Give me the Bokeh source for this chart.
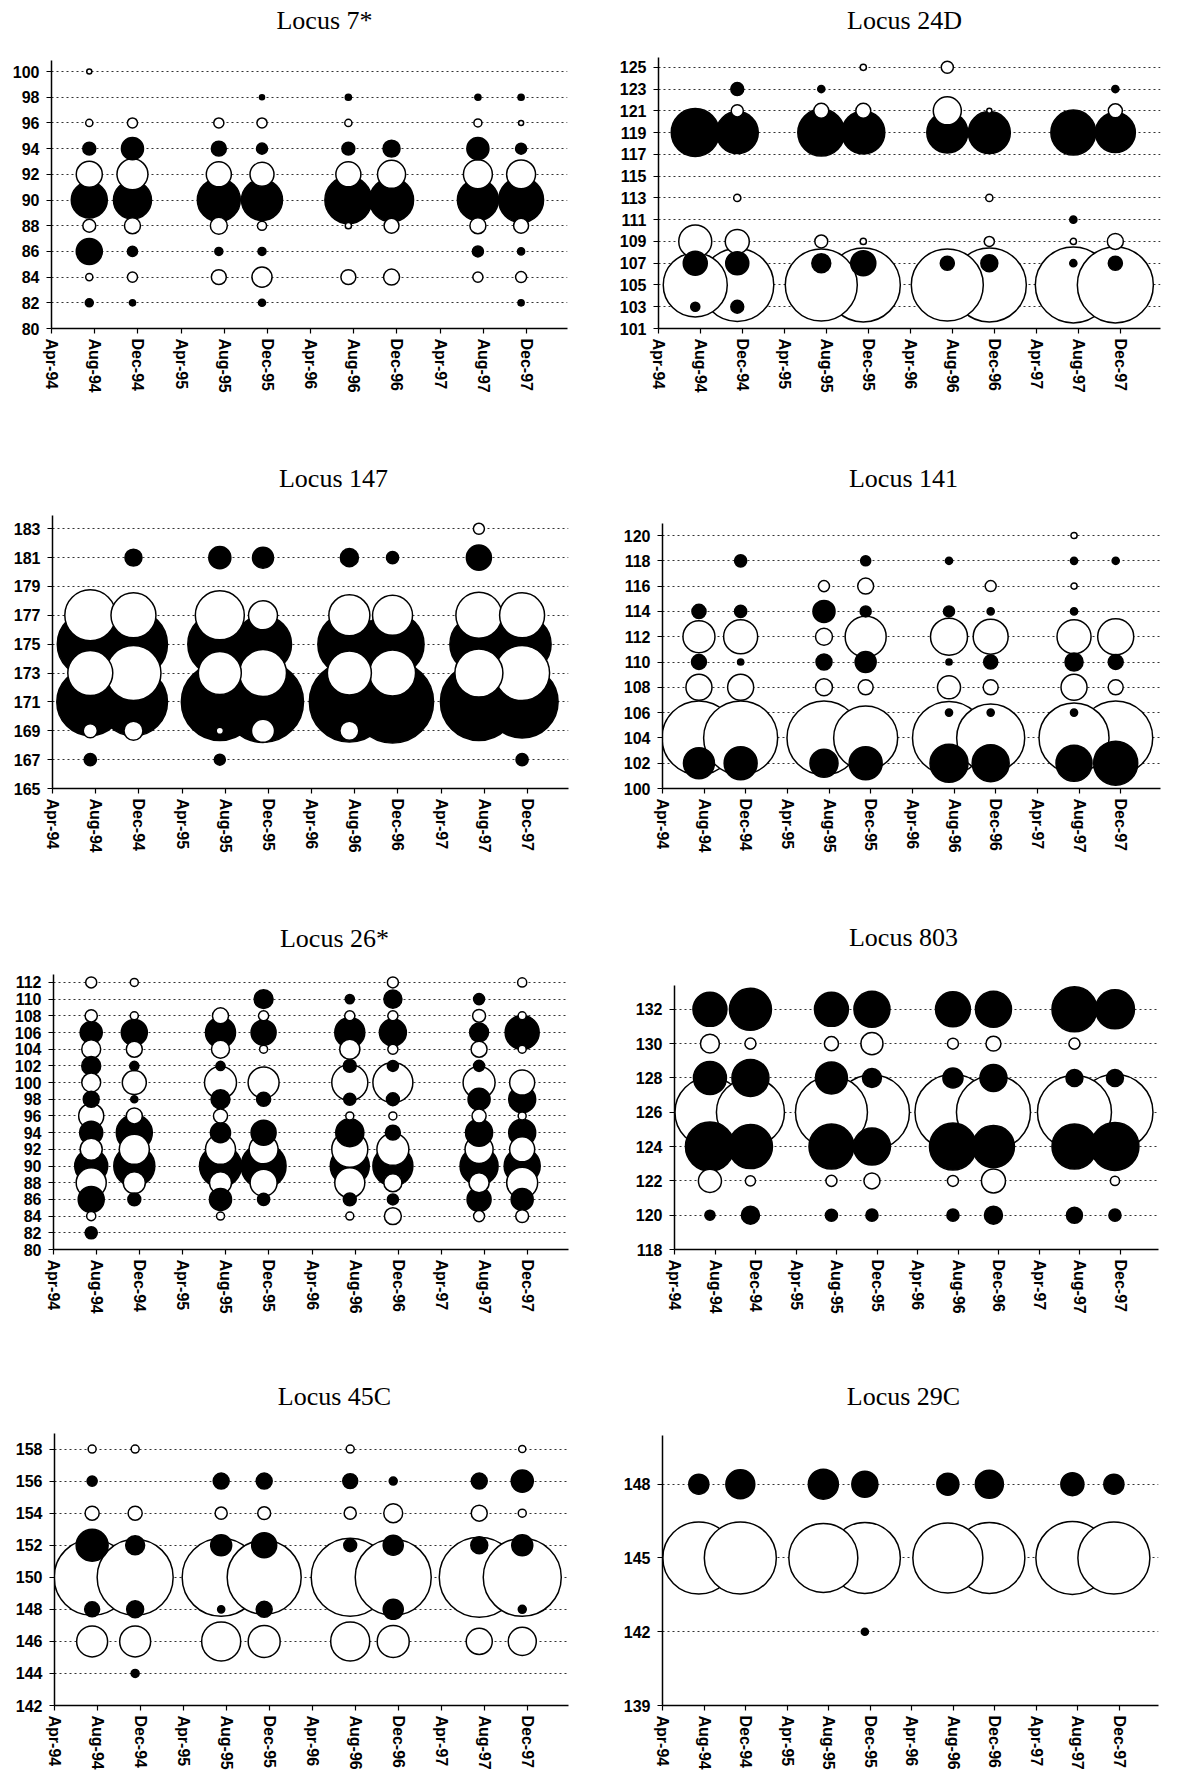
import math
from bokeh.plotting import figure
from bokeh.models import ColumnDataSource, FixedTicker, Label, Range1d
from bokeh.layouts import column, row
from bokeh.embed import file_html
from bokeh.resources import INLINE

# ---------------- data ----------------
month_ticks = [0, 4, 8, 12, 16, 20, 24, 28, 32, 36, 40, 44]
month_labels = ["Apr-94", "Aug-94", "Dec-94", "Apr-95", "Aug-95", "Dec-95",
                "Apr-96", "Aug-96", "Dec-96", "Apr-97", "Aug-97", "Dec-97"]
# sampling times, months after Apr-94 (Aug-94 ... Dec-97 samples)
sample_months = [3.5, 7.5, 15.5, 19.5, 27.5, 31.5, 39.5, 43.5]

# Locus 7*
l7_alleles = [100, 98, 96, 94, 92, 90, 88, 86, 84, 82]
l7_filled = [0, 1, 0, 1, 0, 1, 0, 1, 0, 1]
l7_freq = [
    [0.4, 0, 0, 0, 0, 0, 0, 0],
    [0, 0, 0, 0.4, 0.6, 0, 0.6, 0.6],
    [0.8, 1.6, 1.6, 1.6, 0.8, 0, 1.0, 0.4],
    [2.6, 7.6, 3.5, 1.9, 2.6, 4.5, 7.6, 1.9],
    [10.6, 15.0, 9.8, 9.0, 9.8, 12.3, 13.1, 13.1],
    [20.3, 22.6, 28.9, 26.3, 34.5, 30.3, 26.3, 31.6],
    [2.6, 4.0, 4.5, 1.3, 0.6, 3.5, 4.0, 3.5],
    [10.6, 1.6, 1.0, 1.0, 0, 0, 1.9, 0.8],
    [0.8, 1.6, 3.5, 6.3, 3.5, 4.0, 1.6, 1.9],
    [1.0, 0.6, 0, 0.8, 0, 0, 0, 0.6],
]
l7_ticks = [80, 82, 84, 86, 88, 90, 92, 94, 96, 98, 100]

# Locus 24D
l24_alleles = [125, 123, 121, 119, 113, 111, 109, 107, 105, 103]
l24_filled = [0, 1, 0, 1, 0, 1, 0, 1, 0, 1]
l24_freq = [
    [0, 0, 0, 0.6, 2.3, 0, 0, 0],
    [0, 2.6, 0.8, 0, 0, 0, 0, 0.8],
    [0, 2.3, 3.5, 3.5, 12.3, 0.4, 0, 3.1],
    [36.0, 27.6, 34.5, 28.9, 26.3, 27.6, 31.6, 25.0],
    [0, 0.8, 0, 0, 0, 0.8, 0, 0],
    [0, 0, 0, 0, 0, 0, 0.8, 0],
    [17.0, 9.0, 2.6, 0.6, 0, 1.6, 0.6, 4.0],
    [9.0, 8.3, 5.6, 9.8, 3.1, 4.5, 0.8, 3.1],
    [64.0, 83.3, 81.0, 85.6, 81.0, 85.6, 90.3, 90.3],
    [1.3, 2.6, 0, 0, 0, 0, 0, 0],
]
l24_ticks = [101, 103, 105, 107, 109, 111, 113, 115, 117, 119, 121, 123, 125]

# Locus 147
l147_alleles = [183, 181, 177, 175, 173, 171, 169, 167]
l147_filled = [0, 1, 0, 1, 0, 1, 0, 1]
l147_freq = [
    [0, 0, 0, 0, 0, 0, 1.9, 0],
    [0, 4.5, 7.6, 6.9, 5.1, 2.3, 9.8, 0],
    [40.6, 31.6, 37.5, 13.1, 26.3, 25.0, 33.1, 31.6],
    [68.1, 72.3, 64.0, 50.8, 62.0, 62.0, 52.6, 52.6],
    [31.6, 47.3, 28.9, 34.5, 30.3, 33.1, 36.0, 47.3],
    [70.1, 72.3, 92.6, 102.5, 100.0, 105.1, 92.6, 81.0],
    [3.1, 5.6, 0.8, 8.3, 5.6, 0, 0, 0],
    [2.3, 0, 1.9, 0, 0, 0, 0, 2.3],
]
l147_ticks = [165, 167, 169, 171, 173, 175, 177, 179, 181, 183]

# Locus 141
l141_alleles = [120, 118, 116, 114, 112, 110, 108, 106, 104, 102]
l141_filled = [0, 1, 0, 1, 0, 1, 0, 1, 0, 1]
l141_freq = [
    [0, 0, 0, 0, 0, 0, 0.6, 0],
    [0, 2.3, 0, 1.6, 0.8, 0, 0.8, 0.8],
    [0, 0, 1.9, 4.0, 0, 1.9, 0.6, 0],
    [3.1, 2.3, 7.6, 1.9, 1.9, 0.8, 0.8, 0],
    [16.0, 18.1, 4.5, 26.3, 21.4, 19.1, 18.1, 20.3],
    [3.5, 0.6, 4.0, 6.9, 0.6, 3.1, 5.1, 3.5],
    [10.6, 10.6, 4.5, 3.5, 8.3, 3.5, 10.6, 3.5],
    [0, 0, 0, 0, 0.8, 0.8, 0.8, 0],
    [85.6, 85.6, 85.6, 64.0, 83.3, 72.3, 76.6, 85.6],
    [15.0, 17.0, 12.3, 17.0, 22.6, 21.4, 20.3, 30.3],
]
l141_ticks = [100, 102, 104, 106, 108, 110, 112, 114, 116, 118, 120]

# Locus 26*
l26_alleles = [112, 110, 108, 106, 104, 102, 100, 98, 96, 94, 92, 90, 88, 86, 84, 82]
l26_filled = [0, 1, 0, 1, 0, 1, 0, 1, 0, 1, 0, 1, 0, 1, 0, 1]
l26_freq = [
    [1.9, 1.0, 0, 0, 0, 1.9, 0, 1.3],
    [0, 0, 0, 5.6, 1.3, 5.1, 1.9, 0],
    [2.3, 1.0, 4.0, 1.6, 1.6, 1.6, 2.6, 1.0],
    [7.6, 10.6, 14.1, 9.8, 14.1, 11.4, 5.6, 18.1],
    [5.6, 4.0, 5.1, 1.0, 6.3, 1.6, 4.0, 1.0],
    [5.6, 1.3, 1.3, 0, 2.6, 1.9, 1.9, 0],
    [5.6, 9.0, 16.0, 15.0, 20.3, 25.0, 16.0, 9.8],
    [4.0, 0.8, 5.6, 3.1, 2.3, 2.6, 7.6, 11.4],
    [9.8, 4.0, 3.1, 0, 1.0, 1.0, 3.1, 1.0],
    [8.3, 20.3, 6.3, 9.8, 12.3, 3.5, 11.4, 11.4],
    [7.6, 14.1, 14.1, 13.1, 20.3, 16.0, 12.3, 9.8],
    [17.0, 26.3, 27.6, 31.6, 23.8, 25.0, 22.6, 20.3],
    [14.1, 7.6, 7.6, 11.4, 14.1, 5.1, 6.3, 15.0],
    [10.6, 2.6, 7.6, 2.3, 2.6, 1.9, 9.0, 7.6],
    [1.3, 0, 1.0, 0, 1.0, 4.5, 1.9, 2.6],
    [2.3, 0, 0, 0, 0, 0, 0, 0],
]
l26_ticks = [80, 82, 84, 86, 88, 90, 92, 94, 96, 98, 100, 102, 104, 106, 108, 110, 112]

# Locus 803
l803_alleles = [132, 130, 128, 126, 124, 122, 120]
l803_filled = [1, 0, 1, 0, 1, 0, 1]
l803_freq = [
    [18.1, 27.6, 18.1, 20.3, 19.1, 20.3, 31.6, 23.8],
    [5.6, 1.9, 3.1, 7.6, 1.9, 3.5, 1.9, 0],
    [17.0, 21.4, 16.0, 5.6, 6.3, 11.4, 4.5, 4.5],
    [76.6, 72.3, 81.0, 87.9, 90.3, 85.6, 85.6, 90.3],
    [37.5, 30.3, 31.6, 21.4, 34.5, 27.6, 31.6, 36.0],
    [8.3, 1.6, 1.9, 4.0, 1.9, 9.0, 0, 1.3],
    [1.6, 5.1, 2.3, 2.3, 2.3, 5.1, 4.0, 2.3],
]
l803_ticks = [118, 120, 122, 124, 126, 128, 130, 132]

# Locus 45C
l45_alleles = [158, 156, 154, 152, 150, 148, 146, 144]
l45_filled = [0, 1, 0, 1, 0, 1, 0, 1]
l45_freq = [
    [1.0, 1.0, 0, 0, 1.0, 0, 0, 0.8],
    [1.6, 0, 4.0, 4.0, 3.5, 1.0, 4.0, 7.6],
    [3.1, 3.1, 2.3, 2.6, 2.3, 5.6, 4.0, 1.0],
    [16.0, 5.6, 6.9, 9.8, 2.6, 6.3, 4.5, 6.9],
    [90.3, 90.3, 95.1, 85.6, 95.1, 90.3, 100.0, 95.1],
    [3.5, 4.5, 0.8, 4.0, 0, 6.3, 0, 1.0],
    [15.0, 15.0, 23.8, 16.0, 23.8, 16.0, 10.6, 12.3],
    [0, 1.0, 0, 0, 0, 0, 0, 0],
]
l45_ticks = [142, 144, 146, 148, 150, 152, 154, 156, 158]

# Locus 29C
l29_alleles = [148, 145, 142]
l29_filled = [1, 0, 1]
l29_freq = [
    [6.3, 13.1, 14.1, 10.6, 7.6, 12.3, 8.3, 6.3],
    [81.0, 81.0, 74.4, 78.8, 76.6, 78.8, 83.3, 81.0],
    [0, 0, 0, 0.8, 0, 0, 0, 0],
]
l29_ticks = [139, 142, 145, 148]

# ---------------- layout / style ----------------
BUBBLE_SCALE = 8.0   # px diameter per sqrt(unit)
X_END = 47.8
AXIS_FONT = "Liberation Sans"
TITLE_FONT = "Liberation Serif"
TOP_PAD = 2

# (title, alleles, filled, freq, ticks, ymax, page_x0, page_y0, W, H, bl, br, bt, bb, title_cx, title_base)
panels = [
    ("Locus 7*", l7_alleles, l7_filled, l7_freq, l7_ticks, 100.86, 0, 0, 590, 460, 51, 23, 60, 132, 324, 20),
    ("Locus 24D", l24_alleles, l24_filled, l24_freq, l24_ticks, 125.9, 590, 0, 586, 460, 68, 16, 57, 132, 904, 20),
    ("Locus 147", l147_alleles, l147_filled, l147_freq, l147_ticks, 183.92, 0, 460, 590, 460, 52, 22, 55, 132, 333, 478),
    ("Locus 141", l141_alleles, l141_filled, l141_freq, l141_ticks, 120.95, 590, 460, 586, 460, 72, 16, 63, 132, 903, 478),
    ("Locus 26*", l26_alleles, l26_filled, l26_freq, l26_ticks, 112.95, 0, 920, 590, 460, 53, 22, 54, 131, 334, 938),
    ("Locus 803", l803_alleles, l803_filled, l803_freq, l803_ticks, 133.4, 590, 920, 586, 460, 84, 18, 65, 130, 903, 938),
    ("Locus 45C", l45_alleles, l45_filled, l45_freq, l45_ticks, 159.0, 0, 1380, 590, 392, 54, 22, 53, 64, 334, 1399),
    ("Locus 29C", l29_alleles, l29_filled, l29_freq, l29_ticks, 150.0, 590, 1380, 586, 392, 72, 18, 55, 64, 903, 1399),
]


def make_panel(spec):
    (title, alleles, filled, freq, ticks, ymax, px0, py0, W, H, bl, br, bt, bb, tcx, tbase) = spec
    xs, ys, ds, fills = [], [], [], []
    for a, fl, vals in zip(alleles, filled, freq):
        for m, v in zip(sample_months, vals):
            if v > 0:
                xs.append(m)
                ys.append(a)
                ds.append(BUBBLE_SCALE * math.sqrt(v))
                fills.append("black" if fl else "white")
    order = sorted(range(len(ds)), key=lambda i: -ds[i])
    src = ColumnDataSource(dict(
        x=[xs[i] for i in order], y=[ys[i] for i in order],
        d=[ds[i] for i in order], fill=[fills[i] for i in order]))

    ymin = ticks[0]
    frame_top = py0 + bt
    frame_bottom = py0 + H - bb
    units_per_px = (ymax - ymin) / (frame_bottom - frame_top)
    # extend the frame upward so the title sits inside it; the axis line keeps its bounds
    ytop = ymax + (bt - TOP_PAD) * units_per_px

    p = figure(width=W, height=H, x_range=Range1d(0, X_END), y_range=Range1d(ymin, ytop),
               output_backend="svg", toolbar_location=None,
               min_border_left=bl, min_border_right=br, min_border_top=TOP_PAD, min_border_bottom=bb)
    p.outline_line_color = None
    p.background_fill_color = "white"
    p.border_fill_color = "white"

    p.xgrid.visible = False
    p.ygrid.ticker = FixedTicker(ticks=ticks)
    p.ygrid.grid_line_color = "#333333"
    p.ygrid.grid_line_dash = "2 3"
    p.ygrid.grid_line_width = 1

    for ax in (p.xaxis[0], p.yaxis[0]):
        ax.axis_line_color = "black"
        ax.axis_line_width = 1.5
        ax.major_tick_line_color = "black"
        ax.major_tick_line_width = 1.2
        ax.major_tick_out = 5
        ax.major_tick_in = 0
        ax.minor_tick_out = 0
        ax.minor_tick_in = 0
        ax.major_label_text_font = AXIS_FONT
        ax.major_label_text_font_style = "bold"
        ax.major_label_text_color = "black"

    p.yaxis.ticker = FixedTicker(ticks=ticks)
    p.yaxis.bounds = (ymin, ymax)
    p.yaxis.major_label_standoff = 7
    p.yaxis.major_label_text_font_size = "16px"

    p.xaxis.ticker = FixedTicker(ticks=month_ticks)
    p.xaxis.major_label_overrides = {t: lab for t, lab in zip(month_ticks, month_labels)}
    p.xaxis.major_label_orientation = "vertical"
    p.xaxis.major_label_standoff = 5
    p.xaxis.major_label_text_font_size = "16px"

    p.scatter("x", "y", size="d", source=src, marker="circle",
              fill_color="fill", line_color="black", line_width=1.5)

    frame_left = px0 + bl
    p.add_layout(Label(x=tcx - frame_left, y=frame_bottom - tbase,
                       x_units="screen", y_units="screen", text=title,
                       text_font=TITLE_FONT, text_font_size="26px",
                       text_align="center", text_baseline="alphabetic",
                       text_color="black"))
    return p


figs = [make_panel(s) for s in panels]
layout = column(row(figs[0], figs[1]), row(figs[2], figs[3]),
                row(figs[4], figs[5]), row(figs[6], figs[7]))

open("out.html", "w").write(file_html(layout, INLINE))
